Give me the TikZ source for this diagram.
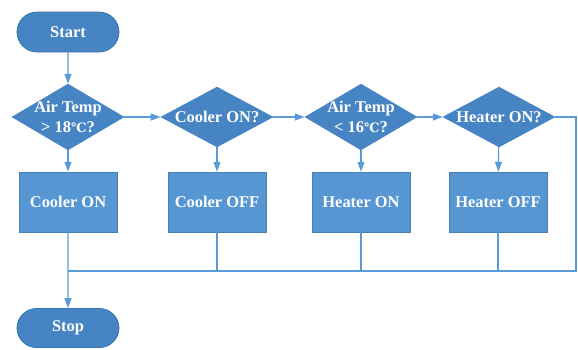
\documentclass[tikz,border=0pt]{standalone}
\usepackage{fontspec}
\setmainfont{Liberation Serif}
\newfontfamily\degfont{DejaVu Serif}
\usetikzlibrary{shapes.geometric,shapes.misc,arrows.meta}

\definecolor{flowdark}{HTML}{4784C3}
\definecolor{flowlight}{HTML}{5596D3}
\definecolor{flowedge}{HTML}{3C74AE}
\definecolor{flowline}{HTML}{5A9AD6}

% degree Celsius sign, taken from a family that has the glyph
\newcommand{\celsius}{{\degfont\fontsize{13}{20}\selectfont ℃}}

\tikzset{
  base/.style={font=\fontsize{16.5}{20}\selectfont\bfseries, text=white, inner sep=0pt},
  terminal/.style={base, rounded rectangle, fill=flowdark, draw=flowedge, line width=0.8bp,
                   minimum width=102bp, minimum height=40bp},
  decision/.style={base, diamond, fill=flowdark, draw=flowdark, line width=0.5bp,
                   minimum width=112bp, minimum height=#1},
  decision/.default=62bp,
  action/.style={base, rectangle, fill=flowlight, draw=flowlight!85!black, line width=0.5bp,
                 minimum width=98bp, minimum height=60bp},
  dlabel/.style={base, align=center},
  conn/.style={draw=flowline, line width=1.2bp},
  arr/.style={conn, -{Triangle[length=10bp,width=7bp]}}
}

\begin{document}
\begin{tikzpicture}[x=1bp, y=-1bp]
  \useasboundingbox (0,0) rectangle (578,349);

  % terminals
  \node[terminal] (start) at (68,32) {Start};
  \node[terminal, minimum height=39bp] (stop) at (68,328) {Stop};

  % decisions
  \node[decision=66bp, label={[dlabel]center:Air Temp\\> 18\celsius?}] (d1) at (68,117) {};
  \node[decision=60bp, label={[dlabel]center:Cooler ON?}] (d2) at (217,117) {};
  \node[decision=66bp, label={[dlabel]center:Air Temp\\< 16\celsius?}] (d3) at (361,117) {};
  \node[decision=60bp, label={[dlabel]center:Heater ON?}] (d4) at (499,117) {};

  % actions
  \node[action] (r1) at (68,202) {Cooler ON};
  \node[action] (r2) at (217,202) {Cooler OFF};
  \node[action] (r3) at (361,202) {Heater ON};
  \node[action] (r4) at (498,202) {Heater OFF};

  % return bus
  \coordinate (bus) at (68,271);
  \coordinate (busE) at (576,271);

  % connectors
  \draw[arr] (start) -- (d1);
  \draw[arr] (d1) -- (r1);
  \draw[arr] (d1) -- (d2);
  \draw[arr] (d2) -- (r2);
  \draw[arr] (d2) -- (d3);
  \draw[arr] (d3) -- (r3);
  \draw[arr] (d3) -- (d4);
  \draw[arr] (d4) -- (r4);
  \draw[conn] (d4.east) -| (busE) -- (bus);
  \draw[conn] (r2.south) -- (r2.south |- bus);
  \draw[conn] (r3.south) -- (r3.south |- bus);
  \draw[conn] (r4.south) -- (r4.south |- bus);
  \draw[arr] (r1) -- (stop);
\end{tikzpicture}
\end{document}
